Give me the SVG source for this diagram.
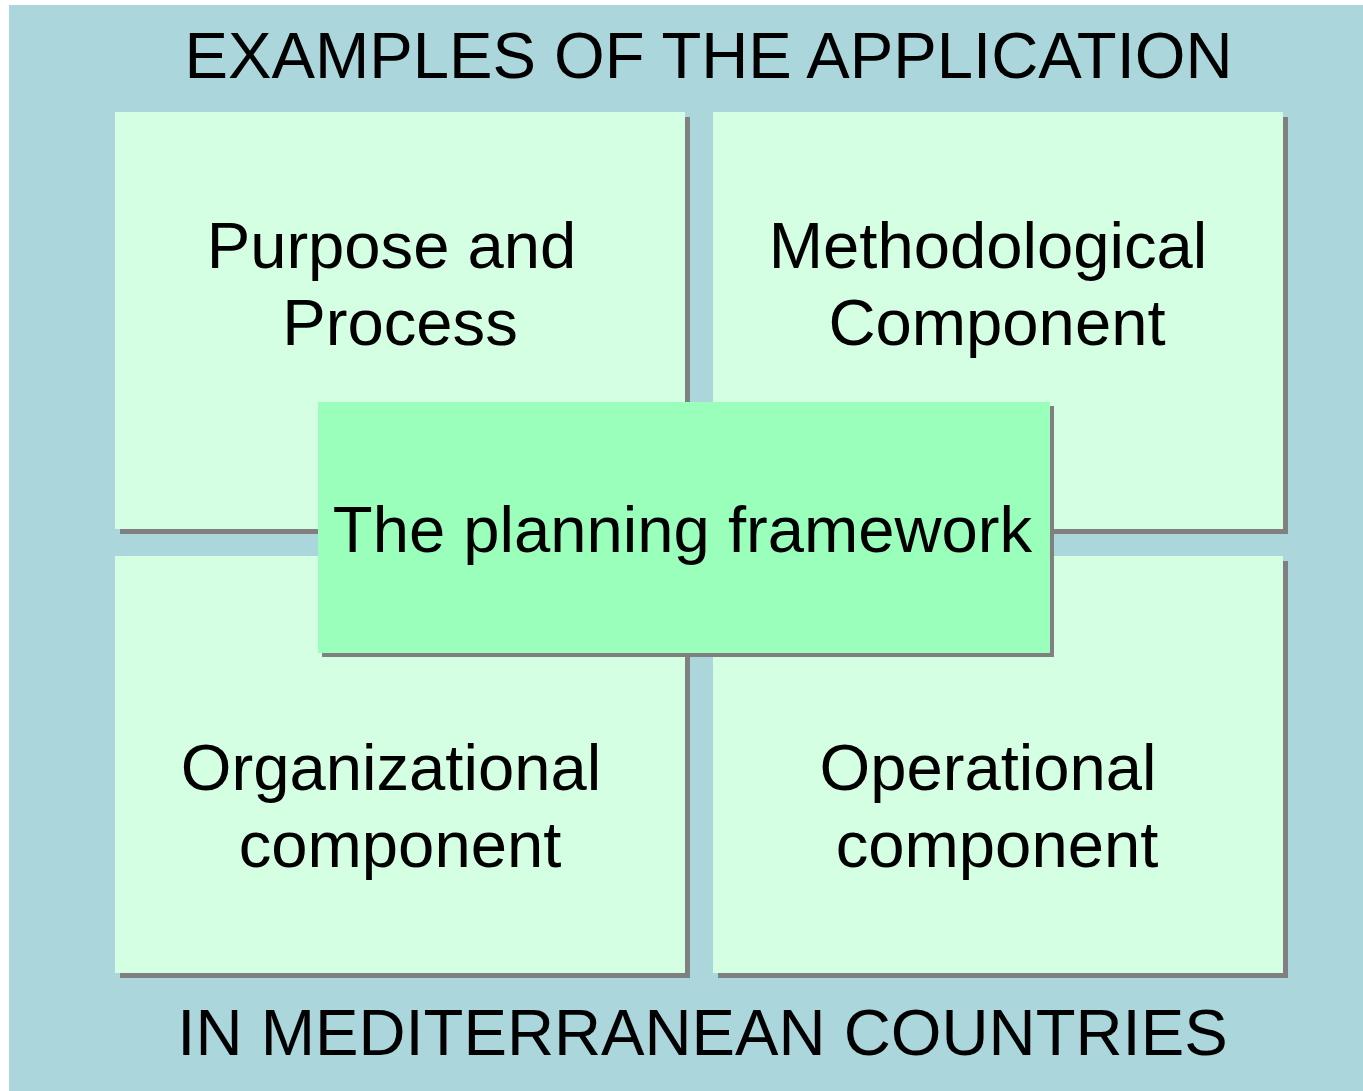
<svg xmlns="http://www.w3.org/2000/svg" width="1363" height="1091" viewBox="0 0 1363 1091">
<style>
.bg{fill:#ABD6DC}
.shadow{fill:#808080}
.box{fill:#D5FFE3}
.core{fill:#99FFBB}
text{font-family:"Liberation Sans",Arial,sans-serif;font-size:65.2px;fill:#000;text-anchor:middle}
</style>
<rect class="bg" x="9" y="5" width="1354" height="1086"/>
<text x="708.5" y="78">EXAMPLES OF THE APPLICATION</text>
<text x="702.5" y="1055">IN MEDITERRANEAN COUNTRIES</text>
<g id="purpose">
<rect class="shadow" x="120" y="117" width="570" height="417"/>
<rect class="box" x="115" y="112" width="570" height="417"/>
<text x="391.5" y="268">Purpose and</text>
<text x="400" y="345">Process</text>
</g>
<g id="methodological">
<rect class="shadow" x="718" y="117" width="570" height="417"/>
<rect class="box" x="713" y="112" width="570" height="417"/>
<text x="988" y="268">Methodological</text>
<text x="997" y="345">Component</text>
</g>
<g id="organizational">
<rect class="shadow" x="120" y="561" width="570" height="417"/>
<rect class="box" x="115" y="556" width="570" height="417"/>
<text x="391" y="790">Organizational</text>
<text x="400" y="867">component</text>
</g>
<g id="operational">
<rect class="shadow" x="718" y="561" width="570" height="417"/>
<rect class="box" x="713" y="556" width="570" height="417"/>
<text x="988" y="790">Operational</text>
<text x="997" y="867">component</text>
</g>
<g id="framework">
<rect class="shadow" x="322" y="406" width="732" height="251"/>
<rect class="core" x="318" y="402" width="732" height="251"/>
<text x="682.5" y="552">The planning framework</text>
</g>
<g id="connectors"/>
</svg>
